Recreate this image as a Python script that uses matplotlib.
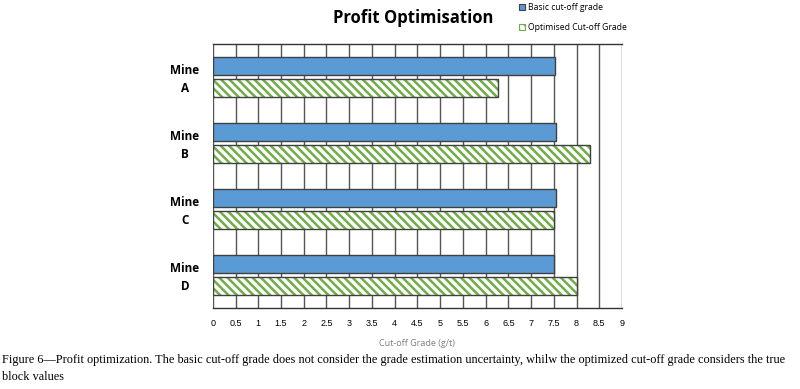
import numpy as np
import matplotlib
matplotlib.use("Agg")
import matplotlib.pyplot as plt
from matplotlib.patches import Patch

# data
mines = ["Mine\nA", "Mine\nB", "Mine\nC", "Mine\nD"]
basic = [7.53, 7.55, 7.55, 7.51]
optimised = [6.27, 8.30, 7.50, 8.00]
xticks = np.arange(0, 9.01, 0.5)
xtick_labels = ["0", "0.5", "1", "1.5", "2", "2.5", "3", "3.5", "4", "4.5",
                "5", "5.5", "6", "6.5", "7", "7.5", "8", "8.5", "9"]

plt.rcParams["font.family"] = ["Open Sans", "DejaVu Sans"]
plt.rcParams["hatch.linewidth"] = 1.8

blue = "#5B9BD5"
green = "#70AD47"
edge = "#404040"

fig = plt.figure(figsize=(8, 3.89), dpi=100)
ax = fig.add_axes([0.266, 0.208, 0.5115, 0.679])

y = np.arange(len(mines))
h = 0.265
off = 0.165

# vertical grid every 0.5
for xv in xticks:
    ax.axvline(xv, color="#555555", lw=1.0, zorder=0)

ax.barh(y - off, basic, height=h, color=blue, edgecolor=edge, lw=1.0, zorder=2)
# hatched bars: green hatch, then dark outline on top
ax.barh(y + off, optimised, height=h, color="white", edgecolor=green, lw=0,
        hatch="\\\\\\\\", zorder=2)
ax.barh(y + off, optimised, height=h, fill=False, edgecolor=edge, lw=1.0, zorder=3)

ax.set_xlim(0, 9)
ax.set_ylim(len(mines) - 0.5, -0.5)
ax.set_yticks(y - 0.02)
ax.set_yticklabels(mines, fontsize=8.5, fontweight="bold", ha="center",
                   linespacing=1.5)
ax.tick_params(axis="y", length=0, pad=20)
ax.set_xticks(xticks)
ax.set_xticklabels(xtick_labels, fontsize=6.5, family=["Liberation Sans Narrow", "Liberation Sans", "DejaVu Sans"])
ax.tick_params(axis="x", length=0, pad=8)
ax.set_xlabel("Cut-off Grade (g/t)", fontsize=6.5, color="#7f7f7f", labelpad=8)
for side in ["top", "bottom"]:
    ax.spines[side].set_color("#333333")
    ax.spines[side].set_linewidth(1.0)
for side in ["left", "right"]:
    ax.spines[side].set_visible(False)

fig.text(0.516, 0.953, "Profit Optimisation", ha="center", va="center",
         fontsize=12, fontweight="bold")

handles = [Patch(facecolor=blue, edgecolor=edge, lw=0.8),
           Patch(facecolor="white", edgecolor=green, hatch="\\\\\\", lw=0.8)]
fig.legend(handles, ["Basic cut-off grade", "Optimised Cut-off Grade"],
           loc="upper left", bbox_to_anchor=(0.639, 1.012), frameon=False,
           fontsize=6.2, handlelength=0.7, handleheight=0.7, handletextpad=0.4,
           labelspacing=1.25)

caption_font = ["Liberation Serif", "DejaVu Serif"]
fig.text(0.003, 0.075,
         "Figure 6\u2014Profit optimization. The basic cut-off grade does not consider the grade estimation uncertainty, whilw the optimized cut-off grade considers the true",
         fontsize=8.8, family=caption_font, va="center")
fig.text(0.003, 0.03, "block values", fontsize=8.8, family=caption_font, va="center")

fig.savefig("out.png", dpi=100)
